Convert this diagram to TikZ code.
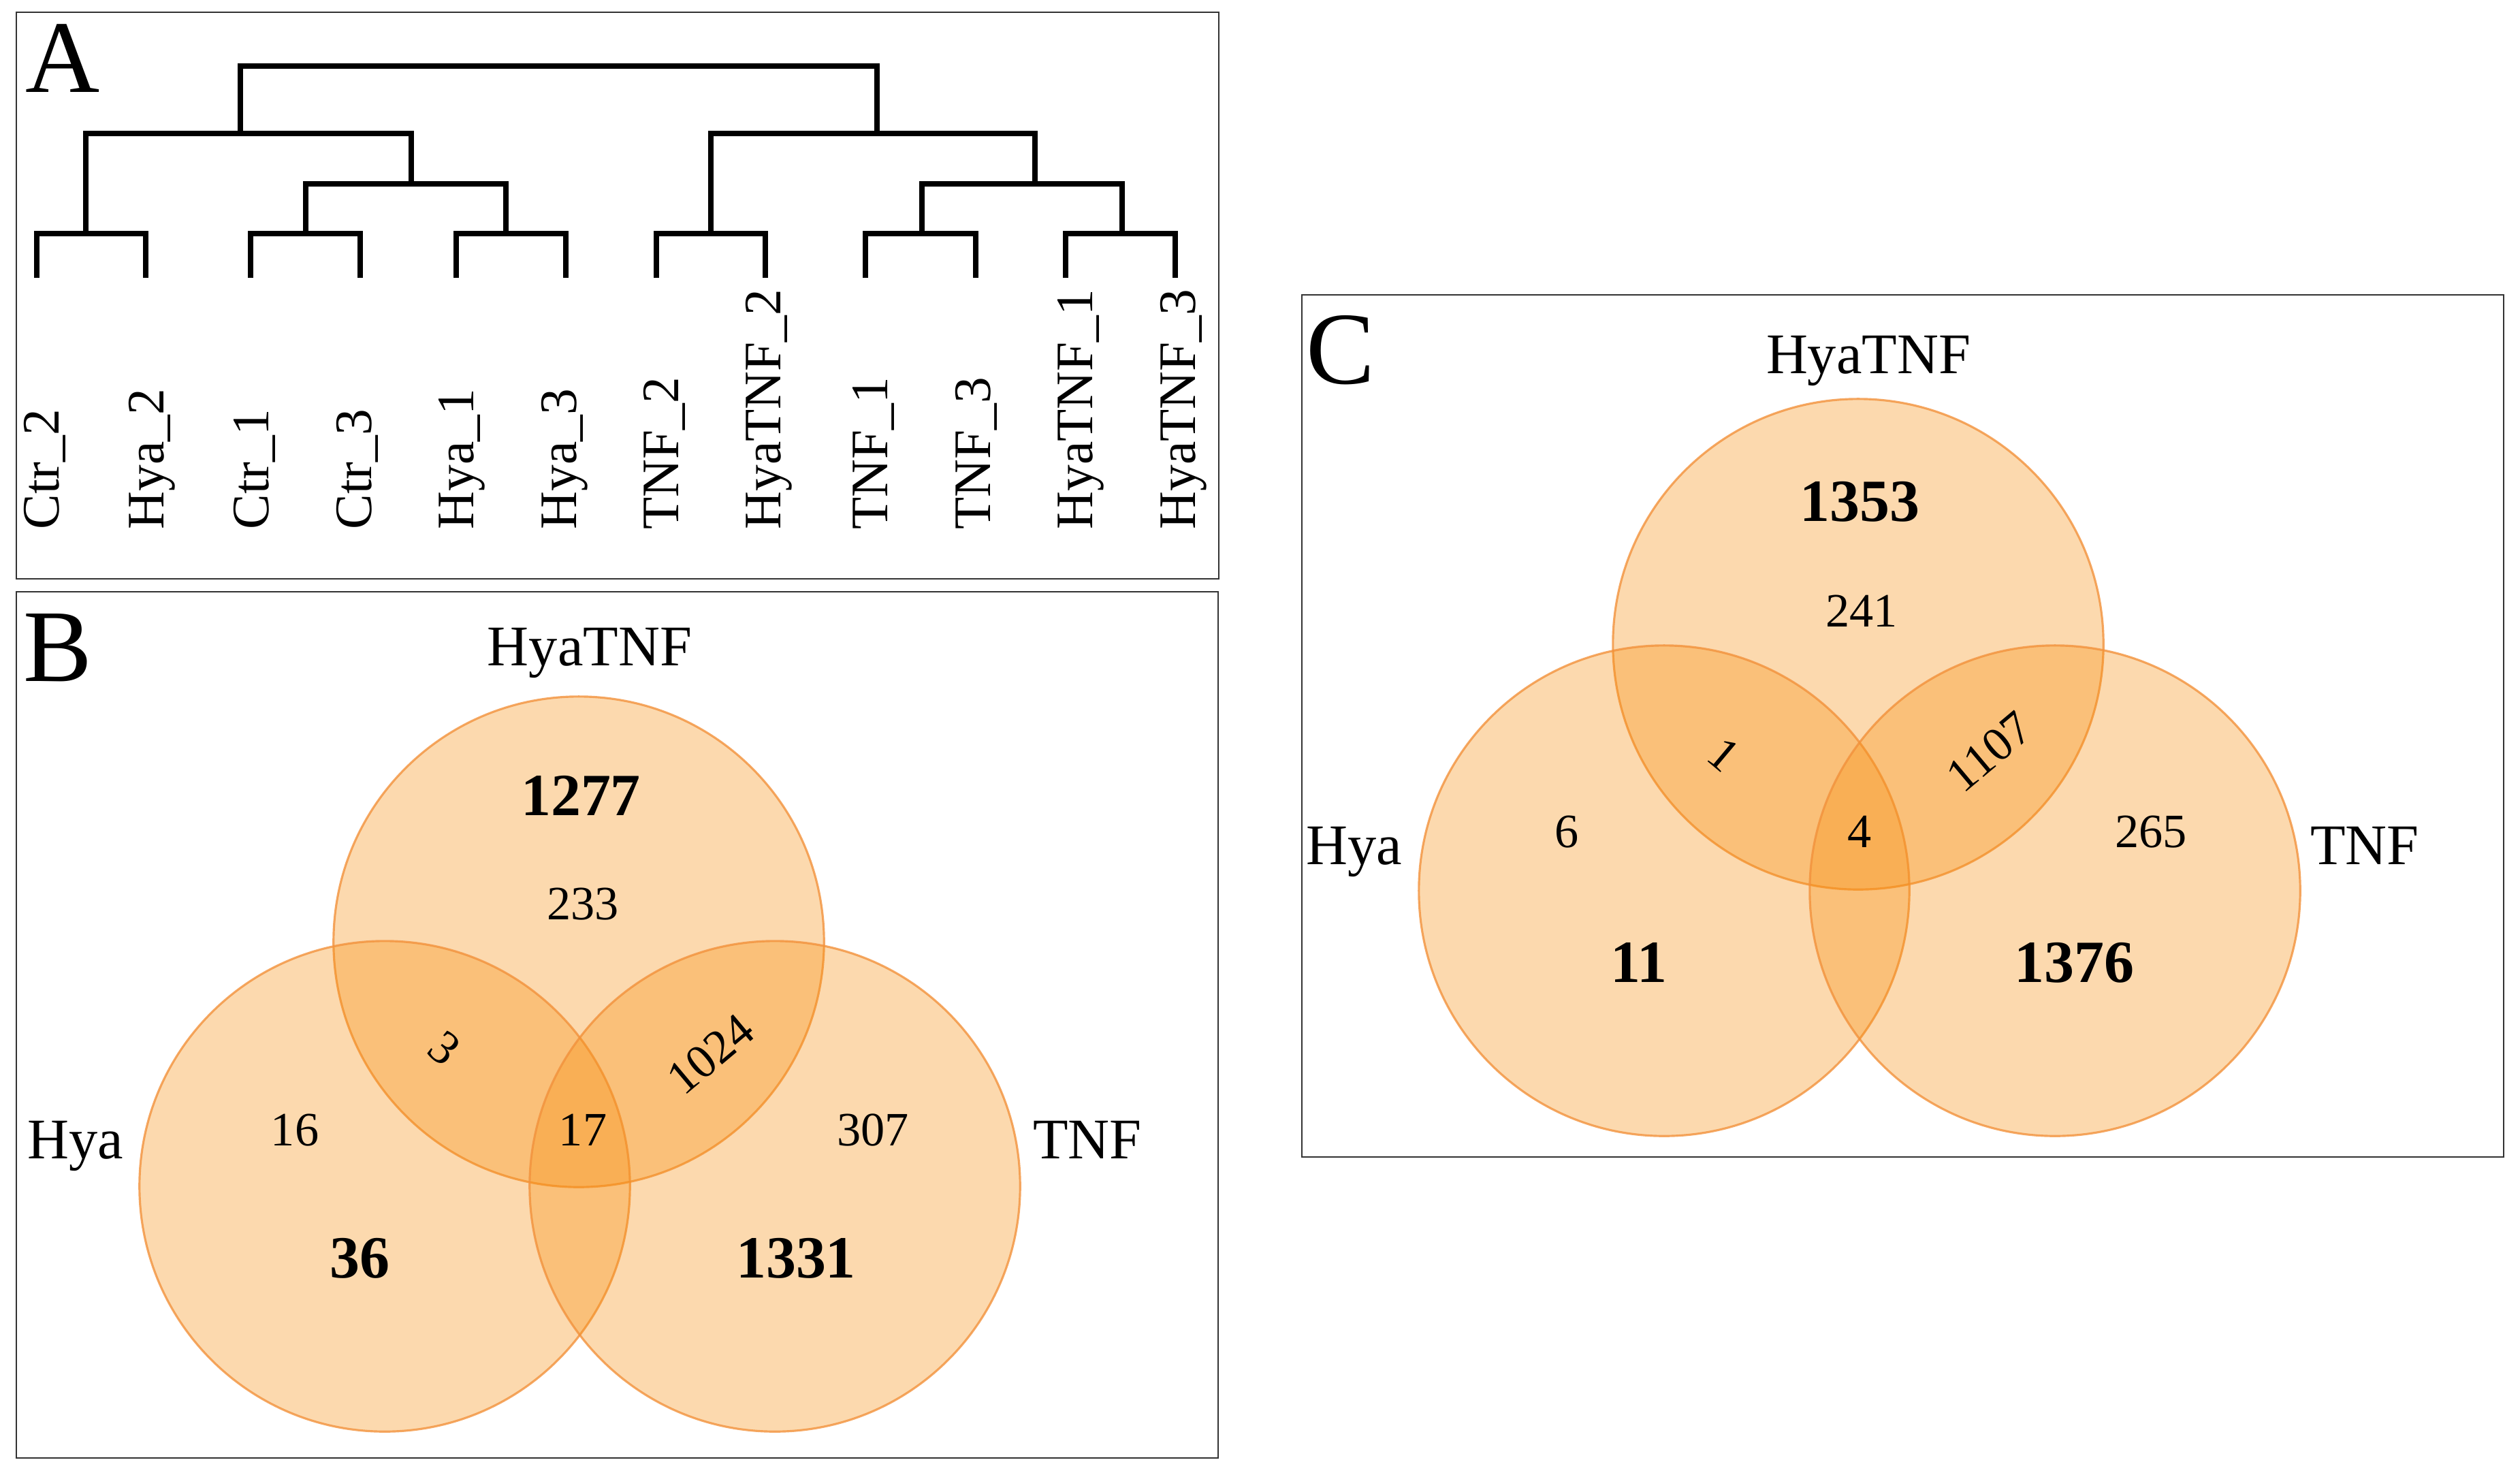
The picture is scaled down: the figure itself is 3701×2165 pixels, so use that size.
\documentclass[tikz,border=0pt]{standalone}
\usepackage{fontspec}
\setmainfont{Liberation Serif}
\usepackage{tikz}

\definecolor{vennfill}{RGB}{246,143,17}
\definecolor{vennline}{RGB}{242,146,60}

\tikzset{
 panel/.style={font=\fontsize{43}{50}\selectfont, inner sep=0pt, anchor=base},
 panelbox/.style={draw=black!80, line width=0.6pt},
 branch/.style={line width=2.4pt},
 leaflabel/.style={font=\fontsize{22}{26}\selectfont, rotate=90, anchor=base west, inner sep=0pt},
 setname/.style={font=\fontsize{24}{28}\selectfont, inner sep=0pt, anchor=base},
 cnt/.style={font=\fontsize{20}{24}\selectfont, inner sep=0pt, anchor=base},
 bignum/.style={font=\bfseries\fontsize{25}{30}\selectfont, inner sep=0pt, anchor=base},
 lens/.style={cnt, anchor=center},
 venn/.style={circle, minimum size=7.2cm, inner sep=0pt, fill=vennfill, fill opacity=0.34, draw=vennline, draw opacity=0.8, line width=0.9pt}
}

\begin{document}
\begin{tikzpicture}[x=0.01cm, y=-0.01cm]
 \useasboundingbox (0,0) rectangle (3701,2165);

 % A: clustering
 \draw[panelbox] (24,18) rectangle (1790,850);
 \node[panel] (A) at (92,135) {A};

 \coordinate (t1) at (54,408);
 \coordinate (t2) at (214,408);
 \coordinate (t3) at (368,408);
 \coordinate (t4) at (529,408);
 \coordinate (t5) at (670,408);
 \coordinate (t6) at (831,408);
 \coordinate (t7) at (964,408);
 \coordinate (t8) at (1124,408);
 \coordinate (t9) at (1271,408);
 \coordinate (t10) at (1433,408);
 \coordinate (t11) at (1565,408);
 \coordinate (t12) at (1726,408);

 \coordinate (j1) at (126,343);
 \coordinate (j2) at (449,343);
 \coordinate (j3) at (743,343);
 \coordinate (j4) at (1044,343);
 \coordinate (j5) at (1354,343);
 \coordinate (j6) at (1648,343);

 \coordinate (m1) at (604,270);
 \coordinate (m2) at (1520,270);

 \coordinate (g1) at (353,196);
 \coordinate (g2) at (1288,196);

 \coordinate (r) at (820,97);

 \draw[branch] (t1) |- (j1) -| (t2);
 \draw[branch] (t3) |- (j2) -| (t4);
 \draw[branch] (t5) |- (j3) -| (t6);
 \draw[branch] (t7) |- (j4) -| (t8);
 \draw[branch] (t9) |- (j5) -| (t10);
 \draw[branch] (t11) |- (j6) -| (t12);
 \draw[branch] (j2) |- (m1) -| (j3);
 \draw[branch] (j5) |- (m2) -| (j6);
 \draw[branch] (j1) |- (g1) -| (m1);
 \draw[branch] (j4) |- (g2) -| (m2);
 \draw[branch] (g1) |- (r) -| (g2);

 \node[leaflabel] (n1) at (87,778) {Ctr\_2};
 \node[leaflabel] (n2) at (240,778) {Hya\_2};
 \node[leaflabel] (n3) at (394,778) {Ctr\_1};
 \node[leaflabel] (n4) at (545,778) {Ctr\_3};
 \node[leaflabel] (n5) at (695,778) {Hya\_1};
 \node[leaflabel] (n6) at (846,778) {Hya\_3};
 \node[leaflabel] (n7) at (996,778) {TNF\_2};
 \node[leaflabel] (n8) at (1146,778) {HyaTNF\_2};
 \node[leaflabel] (n9) at (1303,778) {TNF\_1};
 \node[leaflabel] (n10) at (1454,778) {TNF\_3};
 \node[leaflabel] (n11) at (1604,778) {HyaTNF\_1};
 \node[leaflabel] (n12) at (1755,778) {HyaTNF\_3};

 % B: Venn
 \draw[panelbox] (24,869) rectangle (1789,2141);
 \node[panel] (B) at (85,1000) {B};

 \node[venn] (bT) at (850,1383) {};
 \node[venn] (bL) at (565,1742) {};
 \node[venn] (bR) at (1138,1742) {};

 \node[setname] (bTn) at (866,977) {HyaTNF};
 \node[setname] (bLn) at (111,1701) {Hya};
 \node[setname] (bRn) at (1597,1701) {TNF};

 \node[bignum] (b1) at (853,1197) {1277};
 \node[cnt] (b2) at (856,1350) {233};
 \node[lens, rotate=-40] (b3) at (653,1539) {3};
 \node[lens, rotate=40] (b4) at (1044,1548) {1024};
 \node[cnt] (b5) at (433,1682) {16};
 \node[cnt] (b6) at (856,1682) {17};
 \node[cnt] (b7) at (1282,1682) {307};
 \node[bignum] (b8) at (528,1876) {36};
 \node[bignum] (b9) at (1169,1876) {1331};

 % C: Venn
 \draw[panelbox] (1912,433) rectangle (3677,1699);
 \node[panel] (C) at (1969,563) {C};

 \node[venn] (cT) at (2729,946) {};
 \node[venn] (cL) at (2444,1308) {};
 \node[venn] (cR) at (3018,1308) {};

 \node[setname] (cTn) at (2744,548) {HyaTNF};
 \node[setname] (cLn) at (1989,1269) {Hya};
 \node[setname] (cRn) at (3473,1269) {TNF};

 \node[bignum] (c1) at (2731,765) {1353};
 \node[cnt] (c2) at (2734,920) {241};
 \node[lens, rotate=-40] (c3) at (2532,1108) {1};
 \node[lens, rotate=40] (c4) at (2922,1104) {1107};
 \node[cnt] (c5) at (2301,1244) {6};
 \node[cnt] (c6) at (2731,1244) {4};
 \node[cnt] (c7) at (3159,1244) {265};
 \node[bignum] (c8) at (2407,1442) {11};
 \node[bignum] (c9) at (3046,1442) {1376};

\end{tikzpicture}
\end{document}
